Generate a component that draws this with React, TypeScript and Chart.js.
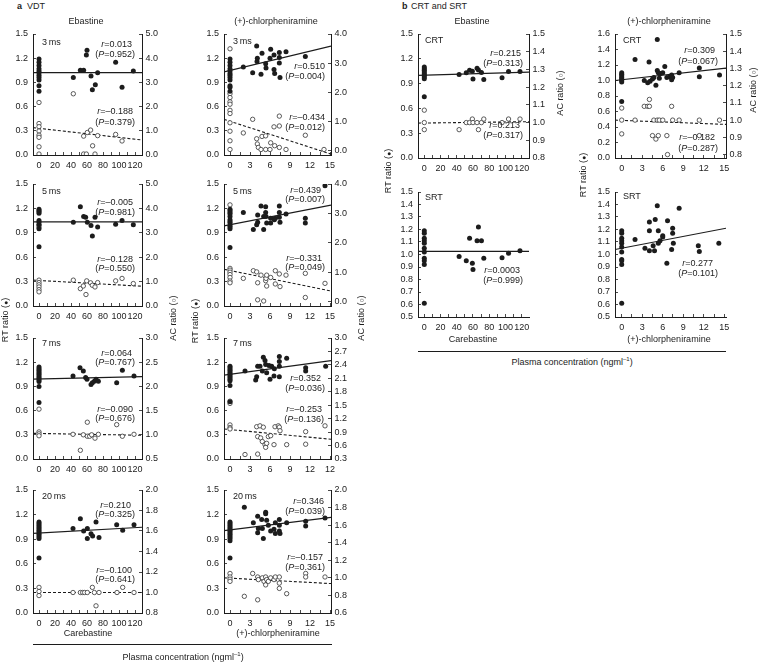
import React, { useEffect, useRef } from 'react';
import { Chart, registerables } from 'chart.js';

Chart.register(...registerables);

// ================= DATA =================
// Panel a: VDT, 3 ms — Ebastine (carebastine conc.)
const vdt3EbaRt0 = [1.19, 1.15, 1.11, 1.07, 1.04, 1.02, 0.99, 0.96, 0.93, 0.86, 0.79];
const vdt3EbaRtX = [42.9, 51.7, 55.8, 59.2, 60.0, 65.0, 66.7, 70.4, 73.3, 95.8, 103.8, 117.9];
const vdt3EbaRtY = [0.96, 1.05, 1.05, 1.24, 1.30, 0.98, 0.81, 0.87, 1.02, 1.15, 0.84, 1.04];
const vdt3EbaAc0 = [2.17, 1.30, 1.17, 0.99, 0.82, 0.73, 0.34, 0.04];
const vdt3EbaAcX = [42.9, 55.8, 55.8, 59.2, 60.4, 64.5, 67.0, 70.0, 73.3, 95.8, 103.8];
const vdt3EbaAcY = [2.53, 0.04, 0.78, 0.04, 0.93, 1.03, 0.38, 0.04, 0.80, 0.85, 0.58];
const vdt3EbaRtFit = [1.02, 1.02];
const vdt3EbaAcFit = [1.13, 0.62];

// VDT 3 ms — (+)-chlorpheniramine
const vdt3CpmRt0 = [1.19, 1.15, 1.11, 1.07, 1.04, 1.01, 0.99, 0.96, 0.93, 0.86, 0.84, 0.79];
const vdt3CpmRtX = [2.0, 3.4, 4.0, 4.05, 4.1, 4.65, 4.8, 5.35, 5.4, 6.0, 6.1, 6.6, 6.7, 6.6, 7.4, 7.4, 7.4, 7.5, 8.4, 11.3];
const vdt3CpmRtY = [1.09, 1.02, 1.35, 1.16, 1.20, 1.00, 1.26, 1.13, 1.08, 1.20, 1.31, 1.06, 1.01, 1.24, 1.27, 1.21, 1.14, 0.96, 1.28, 1.22];
const vdt3CpmAc0 = [3.49, 1.94, 1.81, 1.66, 1.58, 1.37, 1.26, 0.94, 0.65, 0.32, 0.02];
const vdt3CpmAcX = [2.0, 3.4, 4.0, 4.1, 4.25, 4.65, 4.8, 5.35, 5.35, 6.0, 6.1, 6.6, 6.7, 7.4, 7.4, 7.4, 8.4, 11.3, 14.1];
const vdt3CpmAcY = [0.59, 1.06, 0.39, 0.21, 0.09, 0.02, 0.47, 0.02, 0.49, 0.02, 0.25, 0.80, 0.15, 0.83, 1.17, 0.09, 0.02, 0.51, 0.02];
const vdt3CpmRtFit = [1.03, 1.35];
const vdt3CpmAcFit = [1.06, -0.14];

// VDT 5 ms — Ebastine
const vdt5EbaRt0 = [1.19, 1.17, 1.16, 1.14, 1.05, 1.03, 1.0, 0.95, 0.73];
const vdt5EbaRtX = [42.9, 51.7, 55.8, 58.3, 60.4, 65.0, 66.7, 70.0, 73.3, 95.8, 103.8, 117.9];
const vdt5EbaRtY = [1.03, 1.22, 1.10, 1.09, 1.03, 0.99, 0.86, 1.09, 0.97, 1.005, 1.05, 1.0];
const vdt5EbaAc0 = [3.32, 3.23, 1.06, 0.96, 0.87, 0.78, 0.67, 0.58];
const vdt5EbaAcX = [42.9, 51.7, 55.4, 58.7, 59.6, 64.5, 66.7, 70.0, 73.3, 95.8, 103.8, 117.9];
const vdt5EbaAcY = [1.06, 0.71, 0.82, 0.47, 1.03, 0.95, 0.85, 0.78, 0.96, 1.03, 1.13, 0.92];
const vdt5EbaRtFit = [1.034, 1.034];
const vdt5EbaAcFit = [1.06, 0.81];

// VDT 5 ms — (+)-chlorpheniramine
const vdt5CpmRt0 = [1.19, 1.17, 1.15, 1.13, 1.10, 1.06, 1.04, 1.02, 0.99, 0.97, 0.95, 0.72];
const vdt5CpmRtX = [2.0, 3.5, 4.0, 4.15, 4.15, 4.65, 5.05, 5.05, 5.35, 5.35, 5.4, 5.5, 6.1, 6.1, 6.65, 6.8, 7.4, 7.4, 7.4, 7.5, 8.4, 11.3, 11.3, 14.25];
const vdt5CpmRtY = [1.15, 0.94, 1.0, 1.12, 1.03, 1.23, 0.94, 1.10, 1.22, 1.15, 1.10, 1.02, 1.08, 1.02, 1.06, 1.08, 1.23, 1.15, 1.09, 1.03, 1.13, 1.08, 1.02, 1.48];
const vdt5CpmAc0 = [3.29, 1.13, 1.07, 1.0, 0.92, 0.82, 0.70, 0.64];
const vdt5CpmAcX = [2.0, 3.5, 4.0, 4.15, 4.15, 4.65, 5.05, 5.35, 5.4, 5.5, 5.5, 6.1, 6.8, 6.8, 7.4, 7.5, 8.4, 11.3, 11.3, 14.25];
const vdt5CpmAcY = [0.79, 1.05, 1.01, 0.64, 0.06, 0.90, 0.02, 0.71, 0.79, 0.90, 0.53, 0.82, 1.05, 0.60, 0.94, 0.51, 0.90, 0.96, 0.14, 0.62];
const vdt5CpmRtFit = [0.985, 1.24];
const vdt5CpmAcFit = [1.10, 0.36];

// VDT 7 ms — Ebastine
const vdt7EbaRt0 = [1.14, 1.12, 1.10, 1.08, 1.06, 1.04, 1.02, 1.0, 0.98, 0.96, 0.90, 0.70];
const vdt7EbaRtX = [42.5, 51.25, 55.4, 58.3, 60.0, 65.0, 66.7, 69.2, 71.25, 74.2, 97.1, 104.2, 118.75];
const vdt7EbaRtY = [1.03, 1.13, 1.09, 1.01, 0.99, 0.925, 0.945, 0.965, 0.99, 0.965, 0.945, 1.10, 1.03];
const vdt7EbaAc0 = [1.53, 1.06, 1.02, 0.98];
const vdt7EbaAcX = [42.5, 51.7, 55.4, 60.4, 60.4, 63.3, 65.8, 70.0, 74.2, 97.1, 104.2, 118.75];
const vdt7EbaAcY = [1.01, 0.68, 1.0, 1.26, 0.97, 0.97, 1.0, 0.93, 1.01, 1.21, 0.97, 1.01];
const vdt7EbaRtFit = [0.99, 1.02];
const vdt7EbaAcFit = [1.03, 0.99];

// VDT 7 ms — (+)-chlorpheniramine
const vdt7CpmRt0 = [1.15, 1.13, 1.11, 1.09, 1.07, 1.05, 1.03, 1.01, 0.99, 0.97, 0.91, 0.71];
const vdt7CpmRtX = [2.25, 3.85, 4.0, 4.15, 4.5, 4.85, 5.0, 5.25, 5.35, 5.5, 5.85, 6.0, 6.25, 6.6, 6.65, 7.4, 7.4, 7.4, 7.4, 8.5, 11.35, 11.35, 14.35];
const vdt7CpmRtY = [1.09, 0.98, 1.02, 1.15, 1.15, 1.09, 1.26, 1.22, 1.17, 1.07, 1.16, 0.99, 1.15, 1.03, 1.12, 1.27, 1.21, 1.15, 1.02, 1.25, 1.13, 1.09, 1.15];
const vdt7CpmAc0 = [1.59, 1.54, 1.06, 1.0, 0.97];
const vdt7CpmAcX = [2.25, 4.0, 4.5, 5.0, 4.15, 4.15, 4.6, 4.85, 5.25, 5.35, 5.5, 5.75, 6.1, 6.6, 6.75, 7.25, 7.4, 7.5, 8.5, 11.35, 11.35, 14.25];
const vdt7CpmAcY = [0.40, 1.02, 1.04, 1.01, 0.41, 0.80, 0.77, 0.69, 0.62, 0.56, 0.65, 0.80, 0.82, 0.62, 1.02, 1.04, 1.01, 0.93, 0.62, 0.91, 0.63, 1.04];
const vdt7CpmRtFit = [1.04, 1.22];
const vdt7CpmAcFit = [0.97, 0.74];

// VDT 20 ms — Ebastine
const vdt20EbaRt0 = [1.11, 1.09, 1.07, 1.05, 1.03, 1.01, 0.99, 0.97, 0.95, 0.93, 0.91, 0.67];
const vdt20EbaRtX = [42.5, 51.7, 55.8, 60.4, 60.4, 65.0, 67.0, 71.25, 75.0, 97.1, 104.6, 118.75];
const vdt20EbaRtY = [1.03, 1.15, 1.0, 1.03, 0.91, 0.965, 0.94, 1.11, 0.92, 1.075, 1.01, 1.075];
const vdt20EbaAc0 = [1.05, 1.01, 0.97];
const vdt20EbaAcX = [42.5, 51.7, 54.6, 57.0, 60.4, 66.7, 69.2, 71.25, 75.0, 97.5, 104.6, 118.75];
const vdt20EbaAcY = [1.0, 1.0, 1.0, 1.0, 1.0, 1.05, 1.0, 0.87, 1.0, 1.0, 1.05, 1.0];
const vdt20EbaRtFit = [0.97, 1.046];
const vdt20EbaAcFit = [1.0, 1.0];

// VDT 20 ms — (+)-chlorpheniramine
const vdt20CpmRt0 = [1.11, 1.09, 1.07, 1.05, 1.03, 1.01, 0.99, 0.97, 0.95, 0.93, 0.91, 0.88, 0.67];
const vdt20CpmRtX = [2.15, 3.5, 4.15, 4.15, 4.25, 4.75, 5.0, 4.85, 5.35, 5.35, 5.5, 5.75, 6.1, 6.6, 6.8, 6.8, 7.4, 7.4, 7.4, 7.5, 8.5, 11.35, 11.35, 14.25];
const vdt20CpmRtY = [1.29, 1.10, 1.18, 0.98, 1.03, 1.14, 0.91, 1.03, 1.23, 1.21, 1.13, 1.07, 1.0, 1.02, 1.10, 0.97, 1.14, 1.07, 1.0, 0.97, 1.10, 1.12, 1.06, 1.16];
const vdt20CpmAc0 = [1.05, 1.01, 0.985, 0.96];
const vdt20CpmAcX = [2.15, 3.4, 4.15, 4.15, 4.25, 4.85, 5.1, 5.35, 5.35, 5.5, 5.75, 6.1, 6.6, 6.8, 7.4, 7.4, 7.4, 8.5, 11.35, 11.35, 14.25];
const vdt20CpmAcY = [0.79, 1.05, 0.75, 1.01, 0.98, 1.0, 0.96, 1.01, 0.92, 0.98, 0.96, 1.0, 0.98, 1.01, 1.01, 0.94, 0.88, 0.82, 1.05, 1.01, 1.01];
const vdt20CpmRtFit = [1.005, 1.165];
const vdt20CpmAcFit = [1.0, 0.935];

// Panel b: CRT — Ebastine
const crtEbaRt0 = [1.10, 1.08, 1.06, 1.04, 1.02, 1.0, 0.98, 0.96, 0.74];
const crtEbaRtX = [42.9, 51.7, 55.8, 59.2, 60.0, 65.0, 66.7, 70.4, 73.3, 95.8, 103.8, 117.9];
const crtEbaRtY = [1.01, 1.03, 1.06, 1.05, 0.955, 1.085, 1.065, 1.035, 0.95, 0.97, 1.045, 1.045];
const crtEbaAc0 = [1.07, 1.0, 0.96];
const crtEbaAcX = [42.9, 51.7, 55.8, 59.2, 60.0, 65.0, 66.7, 70.4, 73.3, 95.8, 103.8, 117.9];
const crtEbaAcY = [0.96, 1.0, 1.0, 1.02, 1.0, 1.0, 0.96, 1.0, 1.02, 1.0, 1.02, 1.02];
const crtEbaRtFit = [1.0, 1.04];
const crtEbaAcFit = [0.997, 1.005];

// CRT — (+)-chlorpheniramine
const crtCpmRt0 = [1.10, 1.08, 1.06, 1.04, 1.02, 1.0, 0.98, 0.73];
const crtCpmRtX = [1.95, 3.3, 3.8, 4.0, 4.15, 4.5, 4.7, 5.0, 5.2, 5.2, 5.35, 5.5, 5.6, 6.0, 6.3, 6.6, 7.05, 7.3, 7.3, 7.45, 8.4, 11.35, 11.35, 14.3];
const crtCpmRtY = [1.27, 1.0, 0.97, 1.24, 0.99, 1.02, 1.04, 0.94, 1.53, 1.13, 1.10, 1.03, 1.09, 1.10, 1.18, 1.04, 1.05, 1.07, 1.01, 1.04, 1.10, 1.16, 1.05, 1.07];
const crtCpmAc0 = [1.07, 1.0, 0.92];
const crtCpmAcX = [1.95, 3.3, 3.8, 4.05, 4.05, 4.5, 4.7, 5.0, 5.2, 5.35, 5.5, 6.0, 6.6, 6.7, 7.3, 7.45, 8.4, 11.35, 11.35, 14.3];
const crtCpmAcY = [1.0, 1.08, 1.08, 1.12, 1.08, 0.91, 1.0, 0.89, 1.0, 0.91, 1.0, 1.0, 0.91, 0.80, 1.08, 1.0, 1.0, 1.0, 0.91, 1.0];
const crtCpmRtFit = [1.0, 1.16];
const crtCpmAcFit = [1.0, 0.975];

// SRT — Ebastine
const srtEbaRt0 = [1.19, 1.17, 1.13, 1.11, 1.09, 1.05, 1.02, 0.97, 0.95, 0.92, 0.61];
const srtEbaRtX = [42.9, 51.7, 55.8, 59.2, 60.0, 65.0, 66.7, 70.4, 73.3, 95.8, 103.8, 117.9];
const srtEbaRtY = [0.985, 0.95, 1.13, 0.93, 0.88, 1.11, 1.22, 1.11, 0.97, 0.975, 1.01, 1.03];
const srtEbaRtFit = [1.025, 1.025];

// SRT — (+)-chlorpheniramine
const srtCpmRt0 = [1.19, 1.17, 1.13, 1.11, 1.09, 1.06, 1.02, 0.96, 0.95, 0.92, 0.61];
const srtCpmRtX = [1.95, 3.4, 4.05, 4.05, 4.05, 4.6, 4.8, 4.9, 5.2, 5.35, 5.35, 5.6, 6.0, 6.0, 6.6, 6.7, 7.3, 7.45, 7.45, 7.55, 8.4, 11.2, 11.35, 14.2];
const srtCpmRtY = [1.12, 1.05, 1.26, 1.19, 1.03, 1.07, 1.03, 1.28, 1.39, 1.19, 1.09, 1.11, 1.15, 1.14, 0.93, 1.27, 1.04, 1.17, 1.21, 1.09, 1.37, 1.07, 1.025, 1.09];
const srtCpmRtFit = [1.04, 1.21];

// ================= LAYOUT / STYLE =================
type Axis = { min: number; max: number; step: number; every?: number; dec: number; map?: Record<string, string> };
type Spec = {
  rect: number[];
  x: Axis; y: Axis; y2?: Axis;
  rt0: number[]; rtX: number[]; rtY: number[]; rtFit: number[];
  ac0?: number[]; acX?: number[]; acY?: number[]; acFit?: number[];
};

const L = 34, R = 34, T = 8, B = 20;
const FAMILY = "'Liberation Sans', Arial, Helvetica, sans-serif";
const FONT = { family: FAMILY, size: 9 };
const INK = '#1c1c1c';

const aCareX: Axis = { min: -7.5, max: 128.75, step: 10, every: 20, dec: 0 };
const aCpmX: Axis = { min: -0.9, max: 15.15, step: 1.5, every: 3, dec: 0 };
const aCpmX7: Axis = { ...aCpmX, map: { '15': '12' } };
const bCareX: Axis = { min: -7.76, max: 129.0, step: 10, every: 20, dec: 0 };
const bCpmX: Axis = { min: -0.98, max: 15.25, step: 1.5, every: 3, dec: 0 };
const rtY15: Axis = { min: 0, max: 1.5, step: 0.3, dec: 1 };

const specs: Spec[] = [
  { rect: [33, 34, 142, 155], x: aCareX, y: rtY15, y2: { min: 0, max: 5, step: 1, dec: 1 },
    rt0: vdt3EbaRt0, rtX: vdt3EbaRtX, rtY: vdt3EbaRtY, rtFit: vdt3EbaRtFit,
    ac0: vdt3EbaAc0, acX: vdt3EbaAcX, acY: vdt3EbaAcY, acFit: vdt3EbaAcFit },
  { rect: [224, 34, 331, 155], x: aCpmX, y: rtY15, y2: { min: -0.17, max: 4, step: 1, dec: 1 },
    rt0: vdt3CpmRt0, rtX: vdt3CpmRtX, rtY: vdt3CpmRtY, rtFit: vdt3CpmRtFit,
    ac0: vdt3CpmAc0, acX: vdt3CpmAcX, acY: vdt3CpmAcY, acFit: vdt3CpmAcFit },
  { rect: [33, 184, 142, 306], x: aCareX, y: rtY15, y2: { min: 0, max: 5, step: 1, dec: 1 },
    rt0: vdt5EbaRt0, rtX: vdt5EbaRtX, rtY: vdt5EbaRtY, rtFit: vdt5EbaRtFit,
    ac0: vdt5EbaAc0, acX: vdt5EbaAcX, acY: vdt5EbaAcY, acFit: vdt5EbaAcFit },
  { rect: [224, 184, 331, 306], x: aCpmX, y: rtY15, y2: { min: -0.15, max: 4, step: 1, dec: 1 },
    rt0: vdt5CpmRt0, rtX: vdt5CpmRtX, rtY: vdt5CpmRtY, rtFit: vdt5CpmRtFit,
    ac0: vdt5CpmAc0, acX: vdt5CpmAcX, acY: vdt5CpmAcY, acFit: vdt5CpmAcFit },
  { rect: [33, 338, 142, 459], x: aCareX, y: rtY15, y2: { min: 0.5, max: 3, step: 0.5, dec: 1 },
    rt0: vdt7EbaRt0, rtX: vdt7EbaRtX, rtY: vdt7EbaRtY, rtFit: vdt7EbaRtFit,
    ac0: vdt7EbaAc0, acX: vdt7EbaAcX, acY: vdt7EbaAcY, acFit: vdt7EbaAcFit },
  { rect: [224, 338, 331, 459], x: aCpmX7, y: rtY15, y2: { min: 0.3, max: 3, step: 0.3, dec: 1 },
    rt0: vdt7CpmRt0, rtX: vdt7CpmRtX, rtY: vdt7CpmRtY, rtFit: vdt7CpmRtFit,
    ac0: vdt7CpmAc0, acX: vdt7CpmAcX, acY: vdt7CpmAcY, acFit: vdt7CpmAcFit },
  { rect: [33, 490, 142, 613], x: aCareX, y: rtY15, y2: { min: 0.8, max: 2, step: 0.2, dec: 1 },
    rt0: vdt20EbaRt0, rtX: vdt20EbaRtX, rtY: vdt20EbaRtY, rtFit: vdt20EbaRtFit,
    ac0: vdt20EbaAc0, acX: vdt20EbaAcX, acY: vdt20EbaAcY, acFit: vdt20EbaAcFit },
  { rect: [224, 490, 331, 613], x: aCpmX, y: rtY15, y2: { min: 0.6, max: 2, step: 0.2, dec: 1 },
    rt0: vdt20CpmRt0, rtX: vdt20CpmRtX, rtY: vdt20CpmRtY, rtFit: vdt20CpmRtFit,
    ac0: vdt20CpmAc0, acX: vdt20CpmAcX, acY: vdt20CpmAcY, acFit: vdt20CpmAcFit },
  { rect: [418, 34, 529, 158], x: bCareX, y: rtY15, y2: { min: 0.8, max: 1.5, step: 0.1, dec: 1 },
    rt0: crtEbaRt0, rtX: crtEbaRtX, rtY: crtEbaRtY, rtFit: crtEbaRtFit,
    ac0: crtEbaAc0, acX: crtEbaAcX, acY: crtEbaAcY, acFit: crtEbaAcFit },
  { rect: [615, 34, 726, 158], x: bCpmX, y: { min: 0, max: 1.6, step: 0.2, dec: 1 }, y2: { min: 0.78, max: 1.5, step: 0.1, dec: 1 },
    rt0: crtCpmRt0, rtX: crtCpmRtX, rtY: crtCpmRtY, rtFit: crtCpmRtFit,
    ac0: crtCpmAc0, acX: crtCpmAcX, acY: crtCpmAcY, acFit: crtCpmAcFit },
  { rect: [418, 192, 529, 317], x: bCareX, y: { min: 0.5, max: 1.5, step: 0.1, dec: 1 },
    rt0: srtEbaRt0, rtX: srtEbaRtX, rtY: srtEbaRtY, rtFit: srtEbaRtFit },
  { rect: [615, 192, 726, 317], x: bCpmX, y: { min: 0.5, max: 1.5, step: 0.1, dec: 1 },
    rt0: srtCpmRt0, rtX: srtCpmRtX, rtY: srtCpmRtY, rtFit: srtCpmRtFit },
];

function tickCfg(ax: Axis, padding: number) {
  const every = ax.every ?? ax.step;
  return {
    stepSize: ax.step, includeBounds: false, autoSkip: false, maxRotation: 0, minRotation: 0,
    padding, color: INK, font: FONT,
    callback: (v: any) => {
      const n = Number(v);
      const k = n / every;
      if (Math.abs(k - Math.round(k)) > 1e-6) return '';
      const s = n.toFixed(ax.dec);
      return ax.map && ax.map[s] !== undefined ? ax.map[s] : s;
    },
  };
}

function scaleCfg(ax: Axis, position: string, size: number, padding: number, horizontal: boolean) {
  return {
    type: 'linear', position, min: ax.min, max: ax.max,
    ticks: tickCfg(ax, padding),
    grid: { display: true, drawOnChartArea: false, drawTicks: true, tickLength: -3, color: INK, tickWidth: 0.8 },
    border: { display: true, color: INK, width: 1 },
    afterFit: (s: any) => {
      if (horizontal) s.height = size; else s.width = size;
      s.paddingLeft = 0; s.paddingRight = 0; s.paddingTop = 0; s.paddingBottom = 0;
    },
  };
}

function Panel({ s }: { s: Spec }) {
  const ref = useRef<HTMLCanvasElement>(null);
  const [l, t, r, b] = s.rect;
  const W = L + (r - l) + R;
  const H = T + (b - t) + B;
  useEffect(() => {
    const pts = (xs: number[], ys: number[]) => xs.map((x, i) => ({ x, y: ys[i] }));
    const zero = (ys: number[]) => ys.map((y) => ({ x: 0, y }));
    const datasets: any[] = [
      { type: 'scatter', data: [...zero(s.rt0), ...pts(s.rtX, s.rtY)], yAxisID: 'y',
        pointRadius: 2.5, pointBackgroundColor: INK, pointBorderColor: INK, pointBorderWidth: 0 },
    ];
    if (s.ac0 && s.acX && s.acY) {
      datasets.push({ type: 'scatter', data: [...zero(s.ac0), ...pts(s.acX, s.acY)], yAxisID: 'y2',
        pointRadius: 2.2, pointBackgroundColor: '#ffffff', pointBorderColor: '#333', pointBorderWidth: 0.8 });
    }
    datasets.push({ type: 'scatter', showLine: true, data: [{ x: s.x.min, y: s.rtFit[0] }, { x: s.x.max, y: s.rtFit[1] }],
      yAxisID: 'y', borderColor: INK, borderWidth: 1.2, pointRadius: 0, tension: 0, fill: false });
    if (s.acFit) {
      datasets.push({ type: 'scatter', showLine: true, data: [{ x: s.x.min, y: s.acFit[0] }, { x: s.x.max, y: s.acFit[1] }],
        yAxisID: 'y2', borderColor: INK, borderWidth: 1.1, borderDash: [3, 2], pointRadius: 0, tension: 0, fill: false });
    }
    const scales: any = {
      x: scaleCfg(s.x, 'bottom', B, 8, true),
      y: scaleCfg(s.y, 'left', L, 8, false),
    };
    if (s.y2) scales.y2 = scaleCfg(s.y2, 'right', R, 6.5, false);
    const chart = new Chart(ref.current as HTMLCanvasElement, {
      type: 'scatter',
      data: { datasets },
      options: {
        responsive: false, animation: false, devicePixelRatio: 1, events: [],
        layout: { autoPadding: false, padding: { top: T, left: 0, bottom: 0, right: s.y2 ? 0 : R } },
        plugins: { legend: { display: false }, tooltip: { enabled: false } },
        scales,
      } as any,
    });
    return () => chart.destroy();
  }, []);
  return (
    <canvas ref={ref} width={W} height={H}
      style={{ position: 'absolute', left: l - L, top: t - T, width: W, height: H }} />
  );
}

const DASH = '\u2013';

function Txt({ x, y, align = 'left', children, bold = false }: any) {
  const st: any = { position: 'absolute', top: y - 6, lineHeight: '12px', whiteSpace: 'nowrap', fontWeight: bold ? 'bold' : 'normal' };
  if (align === 'right') st.right = 761 - x;
  else if (align === 'center') { st.left = x; st.transform = 'translateX(-50%)'; }
  else st.left = x;
  return <div style={st}>{children}</div>;
}

function VTxt({ x, y, children }: any) {
  return (
    <div style={{ position: 'absolute', left: x, top: y, transform: 'translate(-50%,-50%) rotate(-90deg)', whiteSpace: 'nowrap', lineHeight: '12px' }}>
      {children}
    </div>
  );
}

function RP({ r, p, xr, yr, xp, yp }: any) {
  return (
    <>
      <Txt x={xr} y={yr} align="right"><i>r</i>={r}</Txt>
      <Txt x={xp} y={yp} align="right">(<i>P</i>={p})</Txt>
    </>
  );
}

const dot = <span style={{ fontSize: 7 }}>●</span>;
const ring = <span style={{ fontSize: 7 }}>○</span>;
const unit = <>Plasma concentration (ngml<sup style={{ fontSize: 6, lineHeight: 0 }}>{DASH}1</sup>)</>;

export default function App() {
  return (
    <div style={{ position: 'absolute', left: 0, top: 0, width: 761, height: 663, background: '#fff', overflow: 'hidden',
      fontFamily: FAMILY, fontSize: 9, color: INK }}>
      {specs.map((s, i) => <Panel key={i} s={s} />)}

      <Txt x={17} y={6} bold>a</Txt>
      <Txt x={27} y={6}>VDT</Txt>
      <Txt x={402} y={6} bold>b</Txt>
      <Txt x={411} y={6}>CRT and SRT</Txt>

      <Txt x={86} y={21} align="center">Ebastine</Txt>
      <Txt x={276} y={21} align="center">(+)-chlorpheniramine</Txt>
      <Txt x={472} y={21} align="center">Ebastine</Txt>
      <Txt x={669} y={21} align="center">(+)-chlorpheniramine</Txt>

      <Txt x={42} y={42}>3&thinsp;ms</Txt>
      <Txt x={233} y={41}>3&thinsp;ms</Txt>
      <Txt x={42} y={191}>5&thinsp;ms</Txt>
      <Txt x={233} y={191}>5&thinsp;ms</Txt>
      <Txt x={42} y={343}>7&thinsp;ms</Txt>
      <Txt x={233} y={343}>7&thinsp;ms</Txt>
      <Txt x={42} y={496}>20&thinsp;ms</Txt>
      <Txt x={233} y={496}>20&thinsp;ms</Txt>
      <Txt x={425} y={40}>CRT</Txt>
      <Txt x={623} y={40}>CRT</Txt>
      <Txt x={425} y={197}>SRT</Txt>
      <Txt x={623} y={196}>SRT</Txt>

      <RP r="0.013" p="0.952" xr={132} yr={44} xp={135} yp={54} />
      <RP r={DASH + '0.188'} p="0.379" xr={133} yr={111} xp={135} yp={122} />
      <RP r="0.510" p="0.004" xr={325} yr={66} xp={325} yp={76} />
      <RP r={DASH + '0.434'} p="0.012" xr={325} yr={117} xp={325} yp={127} />
      <RP r={DASH + '0.005'} p="0.981" xr={133} yr={202} xp={135} yp={212} />
      <RP r={DASH + '0.128'} p="0.550" xr={133} yr={259} xp={135} yp={268} />
      <RP r="0.439" p="0.007" xr={321} yr={190} xp={325} yp={199} />
      <RP r={DASH + '0.331'} p="0.049" xr={322} yr={258} xp={325} yp={267} />
      <RP r="0.064" p="0.767" xr={132} yr={353} xp={135} yp={362} />
      <RP r={DASH + '0.090'} p="0.676" xr={133} yr={409} xp={135} yp={418} />
      <RP r="0.352" p="0.036" xr={321} yr={378} xp={325} yp={388} />
      <RP r={DASH + '0.253'} p="0.136" xr={322} yr={409} xp={324} yp={419} />
      <RP r="0.210" p="0.325" xr={131} yr={505} xp={135} yp={514} />
      <RP r={DASH + '0.100'} p="0.641" xr={132} yr={570} xp={135} yp={579} />
      <RP r="0.346" p="0.039" xr={324} yr={501} xp={325} yp={511} />
      <RP r={DASH + '0.157'} p="0.361" xr={323} yr={557} xp={325} yp={567} />
      <RP r="0.215" p="0.313" xr={521} yr={53} xp={523} yp={63} />
      <RP r="0.213" p="0.317" xr={520} yr={125} xp={523} yp={135} />
      <RP r="0.309" p="0.067" xr={715} yr={50} xp={718} yp={61} />
      <RP r={DASH + '0.182'} p="0.287" xr={715} yr={137} xp={718} yp={148} />
      <RP r="0.0003" p="0.999" xr={520} yr={270} xp={523} yp={280} />
      <RP r="0.277" p="0.101" xr={713} yr={263} xp={718} yp={273} />

      <VTxt x={5} y={320}>RT ratio ({dot})</VTxt>
      <VTxt x={173} y={318}>AC ratio ({ring})</VTxt>
      <VTxt x={195} y={321}>RT ratio ({dot})</VTxt>
      <VTxt x={361} y={318}>AC ratio ({ring})</VTxt>
      <VTxt x={388} y={171}>RT ratio ({dot})</VTxt>
      <VTxt x={560} y={93}>AC ratio ({ring})</VTxt>
      <VTxt x={583} y={175}>RT ratio ({dot})</VTxt>
      <VTxt x={753} y={90}>AC ratio ({ring})</VTxt>

      <Txt x={88} y={633} align="center">Carebastine</Txt>
      <Txt x={278} y={633} align="center">(+)-chlorpheniramine</Txt>
      <div style={{ position: 'absolute', left: 33, top: 644, width: 299, borderTop: `1px solid ${INK}` }} />
      <Txt x={183} y={657} align="center">{unit}</Txt>

      <Txt x={473} y={339} align="center">Carebastine</Txt>
      <Txt x={669} y={339} align="center">(+)-chlorpheniramine</Txt>
      <div style={{ position: 'absolute', left: 418, top: 351, width: 308, borderTop: `1px solid ${INK}` }} />
      <Txt x={572} y={362} align="center">{unit}</Txt>
    </div>
  );
}
